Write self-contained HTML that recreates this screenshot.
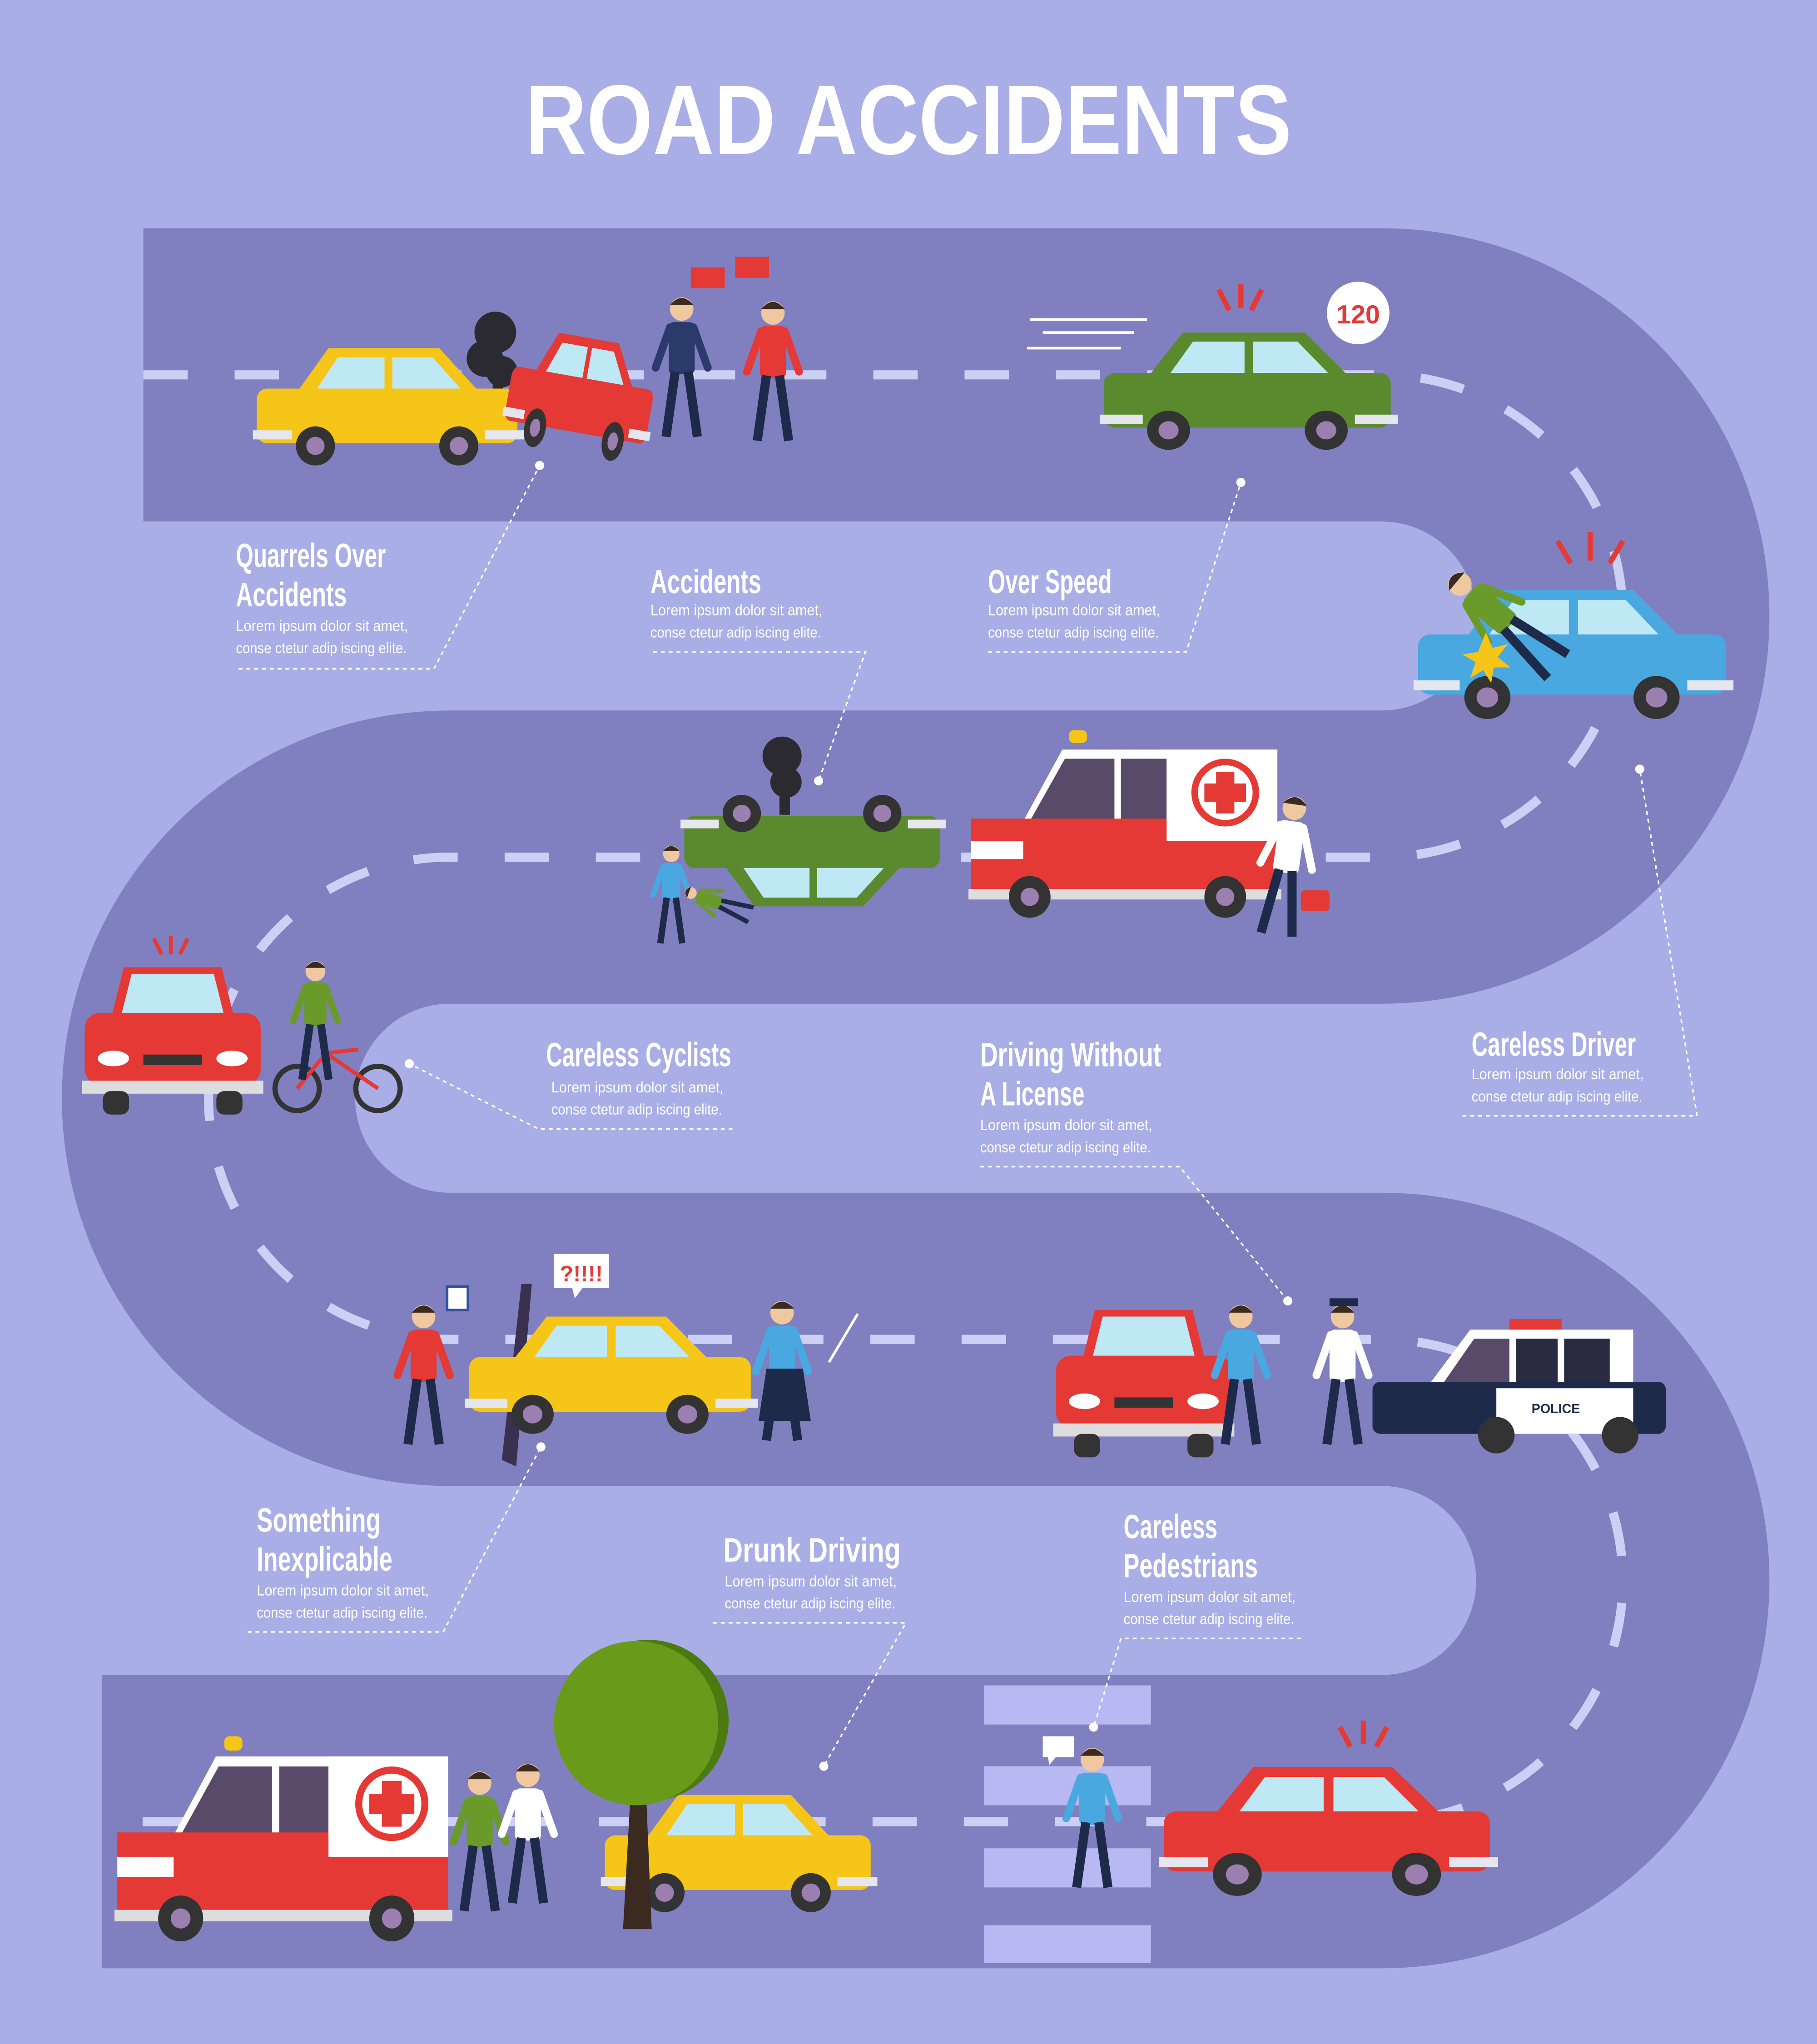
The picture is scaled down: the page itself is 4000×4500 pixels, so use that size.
<!DOCTYPE html>
<html><head><meta charset="utf-8"><style>
html,body{margin:0;padding:0;background:#a9aee7}
svg{display:block}
.h{font-family:"Liberation Sans",sans-serif;font-weight:bold;fill:#fff;font-size:26px}
.b{font-family:"Liberation Sans",sans-serif;fill:#fff;font-size:11.5px}
.ld{stroke:#fff;stroke-width:1.2;stroke-dasharray:3,3;fill:none}
</style></head><body>
<svg width="4000" height="4500" viewBox="0 0 1394 1568" xmlns="http://www.w3.org/2000/svg">
<defs>
<g id="car">
<path d="M30,40 L55,5 L140,5 L172,40 Z" fill="currentColor"/>
<path d="M45,38 L62,12 L98,12 L98,38Z M104,12 L135,12 L158,38 L104,38Z" fill="#bfe8f5"/>
<rect x="0" y="36" width="200" height="42" rx="8" fill="currentColor"/>
<rect x="-3" y="68" width="30" height="7" fill="#e6e6ee"/>
<rect x="175" y="68" width="30" height="7" fill="#e6e6ee"/>
<circle cx="45" cy="80" r="15" fill="#333"/><circle cx="45" cy="80" r="7" fill="#9a7fb0"/>
<circle cx="155" cy="80" r="15" fill="#333"/><circle cx="155" cy="80" r="7" fill="#9a7fb0"/>
</g>
<g id="front">
<path d="M20,45 L30,5 L105,5 L115,45Z" fill="currentColor"/>
<path d="M28,42 L36,10 L99,10 L107,42Z" fill="#bfe8f5"/>
<rect x="0" y="40" width="135" height="55" rx="12" fill="currentColor"/>
<ellipse cx="22" cy="75" rx="12" ry="6" fill="#fff"/><ellipse cx="113" cy="75" rx="12" ry="6" fill="#fff"/>
<rect x="45" y="72" width="45" height="8" fill="#333"/>
<rect x="-2" y="92" width="139" height="10" fill="#ddd"/>
<rect x="14" y="100" width="20" height="18" rx="6" fill="#333"/><rect x="101" y="100" width="20" height="18" rx="6" fill="#333"/>
</g>
<g id="p">
<circle cx="0" cy="0" r="9" fill="#f0c8a0"/>
<path d="M-9,-3 Q0,-14 9,-3Z" fill="#3a2a20"/>
<line x1="-9" y1="14" x2="-20" y2="45" stroke="currentColor" stroke-width="6" stroke-linecap="round"/>
<line x1="9" y1="14" x2="20" y2="45" stroke="currentColor" stroke-width="6" stroke-linecap="round"/>
<rect x="-10" y="10" width="20" height="40" rx="4" fill="currentColor"/>
<line x1="-5" y1="48" x2="-12" y2="98" stroke="#1e2a4a" stroke-width="7"/>
<line x1="5" y1="48" x2="12" y2="98" stroke="#1e2a4a" stroke-width="7"/>
</g>
<g id="amb">
<path d="M40,60 L70,5 L235,5 L235,70 Z" fill="#fff"/>
<path d="M45,60 L72,12 L110,12 L110,60Z M115,12 L150,12 L150,60 L115,60Z" fill="#5a4a6a"/>
<rect x="0" y="58" width="235" height="60" fill="#e53935"/>
<rect x="150" y="5" width="85" height="70" fill="#fff"/>
<circle cx="195" cy="38" r="26" fill="#e53935"/><circle cx="195" cy="38" r="21" fill="#fff"/>
<path d="M188,22 h14 v9 h9 v14 h-9 v9 h-14 v-9 h-9 v-14 h9z" fill="#e53935"/>
<rect x="0" y="75" width="40" height="14" fill="#fff"/><rect x="-2" y="112" width="240" height="8" fill="#ddd"/>
<circle cx="45" cy="118" r="16" fill="#333"/><circle cx="45" cy="118" r="7" fill="#9a7fb0"/>
<circle cx="195" cy="118" r="16" fill="#333"/><circle cx="195" cy="118" r="7" fill="#9a7fb0"/>
</g>
</defs>
<rect width="1394" height="1568" fill="#a9aee7"/>
<path d="M110,287.5 L1060,287.5 A184.5,184.5 0 0 1 1060,657.5 L345,657.5 A184.5,184.5 0 0 0 345,1027.5 L1060,1027.5 A184.5,184.5 0 0 1 1060,1397.5 L78,1397.5" fill="none" stroke="#807fbf" stroke-width="225"/>
<path d="M110,287.5 L1060,287.5 A184.5,184.5 0 0 1 1060,657.5 L345,657.5 A184.5,184.5 0 0 0 345,1027.5 L1060,1027.5 A184.5,184.5 0 0 1 1060,1397.5 L78,1397.5" fill="none" stroke="#cdd0f5" stroke-width="7" stroke-dasharray="34,36"/>
<g fill="#b8b8f2"><rect x="755" y="1293" width="128" height="30"/><rect x="755" y="1355" width="128" height="30"/><rect x="755" y="1418" width="128" height="30"/><rect x="755" y="1477" width="128" height="29"/></g>

<text x="697" y="118" text-anchor="middle" font-family="Liberation Sans,sans-serif" font-weight="bold" font-size="76" fill="#fff" textLength="588" lengthAdjust="spacingAndGlyphs">ROAD ACCIDENTS</text>

<!-- labels -->
<text class="h" x="181" y="435" textLength="115" lengthAdjust="spacingAndGlyphs">Quarrels Over</text>
<text class="h" x="181" y="465" textLength="85" lengthAdjust="spacingAndGlyphs">Accidents</text>
<text class="b" x="181" y="484" textLength="132" lengthAdjust="spacingAndGlyphs">Lorem ipsum dolor sit amet,</text>
<text class="b" x="181" y="501" textLength="131" lengthAdjust="spacingAndGlyphs">conse ctetur adip iscing elite.</text>
<path class="ld" d="M183,513 H333 L414,357"/><circle cx="414" cy="357" r="3.5" fill="#fff"/>

<text class="h" x="499" y="455" textLength="85" lengthAdjust="spacingAndGlyphs">Accidents</text>
<text class="b" x="499" y="472" textLength="132" lengthAdjust="spacingAndGlyphs">Lorem ipsum dolor sit amet,</text>
<text class="b" x="499" y="489" textLength="131" lengthAdjust="spacingAndGlyphs">conse ctetur adip iscing elite.</text>
<path class="ld" d="M501,500 H664 L628,599"/><circle cx="628" cy="599" r="3.5" fill="#fff"/>

<text class="h" x="758" y="455" textLength="95" lengthAdjust="spacingAndGlyphs">Over Speed</text>
<text class="b" x="758" y="472" textLength="132" lengthAdjust="spacingAndGlyphs">Lorem ipsum dolor sit amet,</text>
<text class="b" x="758" y="489" textLength="131" lengthAdjust="spacingAndGlyphs">conse ctetur adip iscing elite.</text>
<path class="ld" d="M758,500 H910 L952,370"/><circle cx="952" cy="370" r="3.5" fill="#fff"/>

<text class="h" x="1129" y="810" textLength="126" lengthAdjust="spacingAndGlyphs">Careless Driver</text>
<text class="b" x="1129" y="828" textLength="132" lengthAdjust="spacingAndGlyphs">Lorem ipsum dolor sit amet,</text>
<text class="b" x="1129" y="845" textLength="131" lengthAdjust="spacingAndGlyphs">conse ctetur adip iscing elite.</text>
<path class="ld" d="M1122,856 H1302 L1258,590"/><circle cx="1258" cy="590" r="3.5" fill="#fff"/>

<text class="h" x="419" y="818" textLength="142" lengthAdjust="spacingAndGlyphs">Careless Cyclists</text>
<text class="b" x="423" y="838" textLength="132" lengthAdjust="spacingAndGlyphs">Lorem ipsum dolor sit amet,</text>
<text class="b" x="423" y="855" textLength="131" lengthAdjust="spacingAndGlyphs">conse ctetur adip iscing elite.</text>
<path class="ld" d="M562,866 H413 L314,816"/><circle cx="314" cy="816" r="3.5" fill="#fff"/>

<text class="h" x="752" y="818" textLength="139" lengthAdjust="spacingAndGlyphs">Driving Without</text>
<text class="h" x="752" y="848" textLength="80" lengthAdjust="spacingAndGlyphs">A License</text>
<text class="b" x="752" y="867" textLength="132" lengthAdjust="spacingAndGlyphs">Lorem ipsum dolor sit amet,</text>
<text class="b" x="752" y="884" textLength="131" lengthAdjust="spacingAndGlyphs">conse ctetur adip iscing elite.</text>
<path class="ld" d="M752,895 H905 L988,998"/><circle cx="988" cy="998" r="3.5" fill="#fff"/>

<text class="h" x="197" y="1175" textLength="95" lengthAdjust="spacingAndGlyphs">Something</text>
<text class="h" x="197" y="1205" textLength="104" lengthAdjust="spacingAndGlyphs">Inexplicable</text>
<text class="b" x="197" y="1224" textLength="132" lengthAdjust="spacingAndGlyphs">Lorem ipsum dolor sit amet,</text>
<text class="b" x="197" y="1241" textLength="131" lengthAdjust="spacingAndGlyphs">conse ctetur adip iscing elite.</text>
<path class="ld" d="M190,1252 H340 L415,1110"/><circle cx="415" cy="1110" r="3.5" fill="#fff"/>

<text class="h" x="555" y="1198" textLength="136" lengthAdjust="spacingAndGlyphs">Drunk Driving</text>
<text class="b" x="556" y="1217" textLength="132" lengthAdjust="spacingAndGlyphs">Lorem ipsum dolor sit amet,</text>
<text class="b" x="556" y="1234" textLength="131" lengthAdjust="spacingAndGlyphs">conse ctetur adip iscing elite.</text>
<path class="ld" d="M547,1245 H695 L632,1355"/><circle cx="632" cy="1355" r="3.5" fill="#fff"/>

<text class="h" x="862" y="1180" textLength="72" lengthAdjust="spacingAndGlyphs">Careless</text>
<text class="h" x="862" y="1210" textLength="103" lengthAdjust="spacingAndGlyphs">Pedestrians</text>
<text class="b" x="862" y="1229" textLength="132" lengthAdjust="spacingAndGlyphs">Lorem ipsum dolor sit amet,</text>
<text class="b" x="862" y="1246" textLength="131" lengthAdjust="spacingAndGlyphs">conse ctetur adip iscing elite.</text>
<path class="ld" d="M998,1257 H860 L839,1325"/><circle cx="839" cy="1325" r="3.5" fill="#fff"/>

<!-- scene 1 -->
<g fill="#2a2a30"><circle cx="380" cy="255" r="16"/><circle cx="372" cy="275" r="14"/><circle cx="385" cy="285" r="12"/><rect x="378" y="285" width="8" height="20"/></g>
<use href="#car" color="#f5c518" transform="translate(197,262)"/>
<use href="#car" color="#e53935" transform="translate(400,245) rotate(10) scale(0.55,1)"/>
<use href="#p" color="#2a3a6a" transform="translate(523,237)"/>
<use href="#p" color="#e53935" transform="translate(593,240)"/>
<rect x="530" y="205" width="26" height="16" fill="#e53935"/><rect x="564" y="197" width="26" height="16" fill="#e53935"/>
<g stroke="#fff" stroke-width="2"><line x1="790" y1="245" x2="880" y2="245"/><line x1="800" y1="255" x2="870" y2="255"/><line x1="788" y1="267" x2="860" y2="267"/></g>
<use href="#car" color="#5b8a2e" transform="translate(847,250) scale(1.1,1)"/>
<g stroke="#e53935" stroke-width="4"><line x1="935" y1="222" x2="943" y2="238"/><line x1="952" y1="218" x2="952" y2="236"/><line x1="968" y1="222" x2="960" y2="238"/></g>
<circle cx="1042" cy="240" r="24" fill="#fff"/><text x="1042" y="248" text-anchor="middle" font-family="Liberation Sans,sans-serif" font-weight="bold" font-size="20" fill="#e53935">120</text>

<use href="#car" color="#4aa8e0" transform="translate(1088,447) scale(1.18,1.1)"/>
<g stroke="#e53935" stroke-width="4"><line x1="1195" y1="415" x2="1205" y2="432"/><line x1="1220" y1="408" x2="1220" y2="430"/><line x1="1245" y1="415" x2="1235" y2="432"/></g>
<use href="#p" color="#6a9a2a" transform="translate(1120,448) rotate(-50)"/>
<path d="M1140,485 l5,12 12,-3 -8,10 10,8 -13,0 -2,12 -6,-10 -10,6 4,-12 -10,-6 12,-2z" fill="#f5c518"/>

<!-- scene 2 -->
<g fill="#2a2a30"><circle cx="600" cy="580" r="15"/><circle cx="603" cy="600" r="12"/><rect x="598" y="605" width="8" height="20"/></g>
<use href="#car" color="#5b8a2e" transform="translate(525,700) scale(0.98,-0.95)"/>
<use href="#p" color="#4aa8e0" transform="translate(515,655) scale(0.7)"/>
<use href="#p" color="#6a9a2a" transform="translate(530,685) rotate(-70) scale(0.5)"/>
<use href="#amb" transform="translate(745,570)"/>
<rect x="820" y="560" width="14" height="10" rx="4" fill="#f5c518"/>
<use href="#p" color="#fff" transform="translate(993,620) rotate(8)"/>
<rect x="998" y="683" width="22" height="16" rx="3" fill="#e53935"/>

<!-- scene 3 -->
<use href="#front" color="#e53935" transform="translate(65,737)"/>
<g stroke="#e53935" stroke-width="3"><line x1="118" y1="720" x2="124" y2="732"/><line x1="131" y1="718" x2="131" y2="732"/><line x1="144" y1="720" x2="138" y2="732"/></g>
<g fill="none" stroke="#333" stroke-width="4"><circle cx="228" cy="835" r="17"/><circle cx="290" cy="835" r="17"/></g>
<path d="M228,835 L250,808 L290,835 M250,808 L275,805" stroke="#e53935" stroke-width="3" fill="none"/>
<use href="#p" color="#6a9a2a" transform="translate(242,745) scale(0.85)"/>

<!-- scene 4 -->
<path d="M385,1120 L400,985 L408,985 L396,1125Z" fill="#3a3050"/>
<use href="#car" color="#f5c518" transform="translate(360,1005) scale(1.08,1)"/>
<use href="#p" color="#e53935" transform="translate(325,1010)"/>
<rect x="343" y="987" width="16" height="18" fill="#fff" stroke="#3050a0" stroke-width="2"/>
<path d="M425,962 h42 v26 h-20 l-6,8 -2,-8 h-14z" fill="#fff"/>
<text x="446" y="983" text-anchor="middle" font-family="Liberation Sans,sans-serif" font-weight="bold" font-size="17" fill="#e53935">?!!!!</text>
<use href="#p" color="#4aa8e0" transform="translate(600,1007)"/>
<path d="M588,1050 h28 l6,40 h-40z" fill="#1e2a4a"/>
<line x1="636" y1="1045" x2="658" y2="1008" stroke="#fff" stroke-width="2"/>
<use href="#front" color="#e53935" transform="translate(810,1000)"/>
<use href="#p" color="#4aa8e0" transform="translate(952,1010)"/>
<use href="#p" color="#fff" transform="translate(1030,1010)"/>
<rect x="1020" y="996" width="22" height="6" fill="#1e2a4a"/>
<g transform="translate(1053,1015)">
<path d="M45,45 L75,5 L200,5 L200,50 Z" fill="#fff"/>
<path d="M55,45 L78,12 L105,12 L105,45Z" fill="#5a4a6a"/><path d="M110,12 h32 v33 h-32z M147,12 h35 v33 h-35z" fill="#2a2a40"/>
<rect x="0" y="45" width="225" height="40" rx="6" fill="#1e2a4a"/>
<rect x="95" y="50" width="105" height="35" fill="#fff"/>
<text x="122" y="69" font-family="Liberation Sans,sans-serif" font-weight="bold" font-size="10" fill="#1e2a4a">POLICE</text>
<rect x="105" y="-3" width="40" height="8" fill="#e53935"/>
<circle cx="95" cy="86" r="14" fill="#333"/><circle cx="190" cy="86" r="14" fill="#333"/>
</g>

<!-- scene 5 -->
<use href="#amb" transform="translate(90,1342) scale(1.08,1.1)"/>
<rect x="172" y="1332" width="14" height="11" rx="4" fill="#f5c518"/>
<use href="#p" color="#6a9a2a" transform="translate(368,1368)"/>
<use href="#p" color="#fff" transform="translate(405,1362)"/>
<use href="#car" color="#f5c518" transform="translate(464,1372) scale(1.02,1)"/>
<path d="M478,1480 L486,1335 L494,1335 L500,1480Z" fill="#3a2a20"/>
<circle cx="497" cy="1320" r="62" fill="#4a7a10"/><circle cx="488" cy="1322" r="63" fill="#6a9a1a"/>
<use href="#p" color="#4aa8e0" transform="translate(838,1350)"/>
<path d="M800,1332 h24 v16 h-14 l-5,6 -1,-6 h-4z" fill="#fff"/>
<use href="#car" color="#e53935" transform="translate(893,1350) scale(1.25,1.1)"/>
<g stroke="#e53935" stroke-width="4"><line x1="1028" y1="1325" x2="1036" y2="1340"/><line x1="1046" y1="1320" x2="1046" y2="1338"/><line x1="1064" y1="1325" x2="1056" y2="1340"/></g>
</svg>
</body></html>
